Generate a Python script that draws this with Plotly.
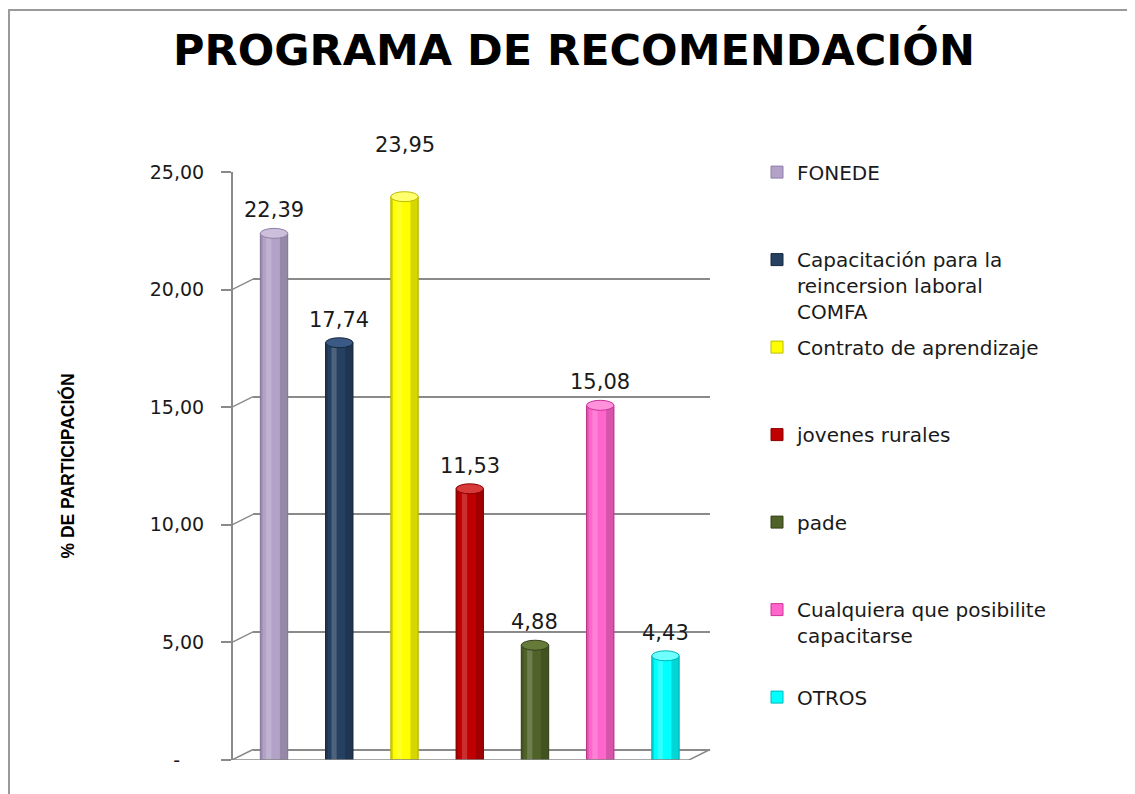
import plotly.graph_objects as go

# ---------------- data ----------------
categories = [
    "FONEDE",
    "Capacitación para la reincersion laboral COMFA",
    "Contrato de aprendizaje",
    "jovenes rurales",
    "pade",
    "Cualquiera que posibilite capacitarse",
    "OTROS",
]
legend_labels = [
    "FONEDE",
    "Capacitación para la<br>reincersion laboral<br>COMFA",
    "Contrato de aprendizaje",
    "jovenes rurales",
    "pade",
    "Cualquiera que posibilite<br>capacitarse",
    "OTROS",
]
values = [22.39, 17.74, 23.95, 11.53, 4.88, 15.08, 4.43]
y_tick_values = [0, 5, 10, 15, 20, 25]

# ---------------- styles ----------------
colors = ["#B3A2C7", "#254061", "#FFFF00", "#C00000", "#4F6228", "#FF66CC", "#00FFFF"]
edge_colors = ["#8F7FA6", "#17283E", "#BDBD00", "#8B0000", "#35421A", "#CC3399", "#00B8B8"]
top_colors = ["#CBBFDB", "#3A5A85", "#FFFF70", "#D83A3A", "#667A3A", "#FF92DA", "#70FFFF"]
label_yshift = {"Contrato de aprendizaje": 52}
GRID = "#8A8A8A"
NBSP = "\u00a0"


def fmt(v):
    return f"{v:.2f}".replace(".", ",")


tick_text = [("-" + NBSP * 4) if v == 0 else fmt(v) for v in y_tick_values]

# page offset from the default body margin of the html page
OFF = 8
W, H = 1135 - OFF, 794 - OFF
ML, MR, MT, MB = 232 - OFF, 0, 0, 34
PW, PH = W - ML - MR, H - MT - MB


def fx(px):  # page x -> paper x
    return (px - OFF - ML) / PW


def fy(py):  # page y -> paper y
    return (OFF + H - MB - py) / PH


BAR_W = 0.42
DEPTH_DY = 10.5

fig = go.Figure()

# back-wall subplot (gridlines) - drawn first so it sits behind bars
fig.add_trace(go.Scatter(x=[], y=[], xaxis="x", yaxis="y", showlegend=False, hoverinfo="skip"))

# main cylinders
for i, (cat, val) in enumerate(zip(categories, values)):
    fig.add_trace(go.Bar(
        x=[cat], y=[val], xaxis="x2", yaxis="y2",
        width=BAR_W, offset=-BAR_W / 2,
        marker=dict(color=colors[i], line=dict(color=edge_colors[i], width=1)),
        name=legend_labels[i],
        legend="legend" if i == 0 else f"legend{i + 1}",
        hovertemplate=f"{cat}: %{{y:.2f}}<extra></extra>",
    ))

# cylinder shading strips
for off, wid, col in [(-BAR_W / 2, 0.035, "rgba(0,0,0,0.14)"),
                      (-0.12, 0.08, "rgba(255,255,255,0.18)"),
                      (0.09, 0.12, "rgba(0,0,0,0.16)")]:
    fig.add_trace(go.Bar(
        x=categories, y=values, xaxis="x2", yaxis="y2",
        width=wid, offset=off, marker=dict(color=col, line=dict(width=0)),
        showlegend=False, hoverinfo="skip",
    ))

shapes = []
# cylinder tops
for i, val in enumerate(values):
    shapes.append(dict(
        type="circle", xref="x2", yref="y2", ysizemode="pixel", yanchor=val,
        x0=i - BAR_W / 2, x1=i + BAR_W / 2, y0=-5, y1=5,
        fillcolor=top_colors[i], line=dict(color=edge_colors[i], width=1), layer="above",
    ))
# diagonals from front axis to back wall
for v in y_tick_values:
    shapes.append(dict(
        type="line", xref="paper", yref="y2", ysizemode="pixel", yanchor=v,
        x0=fx(232), x1=fx(253), y0=0, y1=DEPTH_DY,
        line=dict(color=GRID, width=1.5), layer="below",
    ))
# floor front edge + right diagonal
shapes.append(dict(type="line", xref="paper", yref="y2", x0=fx(232), x1=fx(689), y0=0, y1=0,
                   line=dict(color=GRID, width=1.5), layer="above"))
shapes.append(dict(type="line", xref="paper", yref="y2", ysizemode="pixel", yanchor=0,
                   x0=fx(689), x1=fx(710), y0=0, y1=DEPTH_DY,
                   line=dict(color=GRID, width=1.5), layer="above"))
# chart area border
shapes.append(dict(type="rect", xref="paper", yref="paper",
                   x0=fx(9), x1=fx(1200), y0=fy(900), y1=fy(10),
                   line=dict(color="#9A9A9A", width=2), fillcolor="rgba(0,0,0,0)", layer="below"))

annotations = []
for cat, val in zip(categories, values):
    annotations.append(dict(
        x=cat, y=val, xref="x2", yref="y2", text=fmt(val), showarrow=False,
        yanchor="middle", yshift=label_yshift.get(cat, 23),
        font=dict(family="DejaVu Sans", size=21, color="#1A1A1A"),
    ))

layout = dict(
    width=W, height=H,
    margin=dict(l=ML, r=MR, t=MT, b=MB, autoexpand=False),
    paper_bgcolor="white", plot_bgcolor="rgba(0,0,0,0)",
    barmode="overlay",
    title=dict(text="PROGRAMA DE RECOMENDACIÓN", x=(574 - OFF) / W, xref="container", xanchor="center",
               y=1 - (50 - OFF) / H, yref="container", yanchor="middle", automargin=False,
               font=dict(family="DejaVu Sans", size=43, color="black", weight="bold")),
    xaxis=dict(domain=[fx(253), fx(710)], range=[0, 1], anchor="y", automargin=False,
               showgrid=False, showticklabels=False, showline=False, zeroline=False, ticks="", fixedrange=True),
    yaxis=dict(domain=[fy(760 - DEPTH_DY), fy(172 - DEPTH_DY)], range=[0, 25], anchor="x", automargin=False,
               tickvals=y_tick_values, showticklabels=False, ticks="",
               showgrid=True, gridcolor=GRID, gridwidth=1.5,
               zeroline=True, zerolinecolor=GRID, zerolinewidth=1.5, showline=False, fixedrange=True),
    xaxis2=dict(domain=[fx(241.4), fx(698.1)], type="category", categoryorder="array",
                categoryarray=categories, range=[-0.5, 6.5], anchor="y2", automargin=False,
                showgrid=False, showticklabels=False, showline=False, zeroline=False, ticks="", fixedrange=True),
    yaxis2=dict(domain=[fy(760), fy(172)], range=[0, 25], anchor="free", position=0, automargin=False,
                tickvals=y_tick_values, ticktext=tick_text,
                showline=True, linecolor=GRID, linewidth=2,
                ticks="outside", ticklen=10, tickwidth=2, tickcolor=GRID,
                ticklabelstandoff=13,
                tickfont=dict(family="DejaVu Sans", size=19, color="#1A1A1A"),
                showgrid=False, zeroline=False, fixedrange=True,
                title=dict(text="% DE PARTICIPACIÓN", standoff=70,
                           font=dict(family="Liberation Sans Narrow, Arial Narrow, Liberation Sans",
                                     size=17.5, color="black", weight="bold"))),
    shapes=shapes,
    annotations=annotations,
)

for i in range(len(categories)):
    key = "legend" if i == 0 else f"legend{i + 1}"
    first_line_y = 172 + 87.5 * i
    layout[key] = dict(
        x=fx(757), y=fy(first_line_y - 19.4), xanchor="left", yanchor="top",
        valign="top", bgcolor="rgba(0,0,0,0)", borderwidth=0,
        font=dict(family="DejaVu Sans", size=20, color="#1A1A1A"),
    )

fig.update_layout(**layout)
fig.write_html("out.html")
